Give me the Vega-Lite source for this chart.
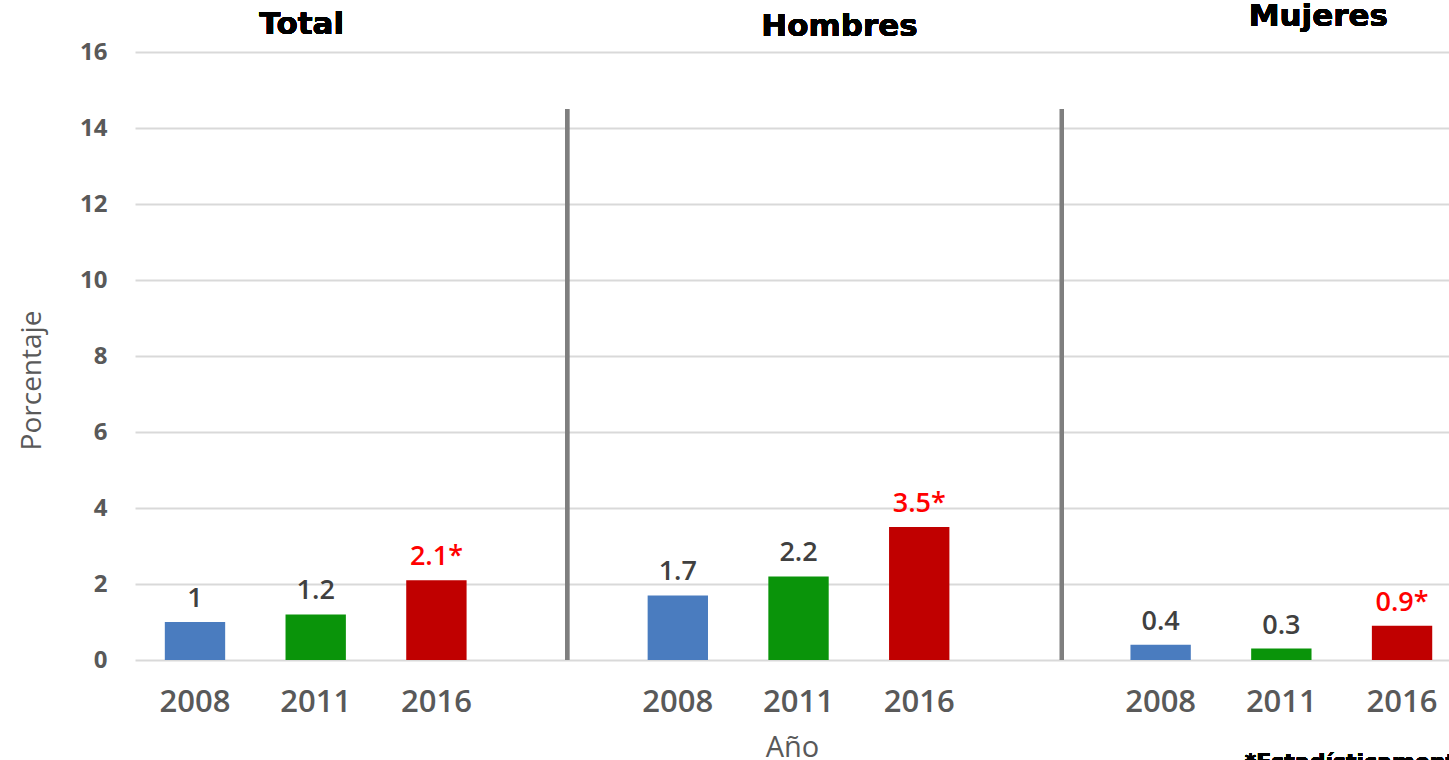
{
  "$schema": "https://vega.github.io/schema/vega-lite/v6.json",
  "autosize": {"type": "none"},
  "padding": {"left": 135, "top": 52, "right": 0, "bottom": 100},
  "width": 1314,
  "height": 608,
  "background": "white",
  "config": {"view": {"stroke": null}, "font": "Open Sans"},
  "datasets": {
    "barras": [
      {"grupo": "Total", "anio": "2008", "slot": "T2008", "valor": 1.0, "etiqueta": "1"},
      {"grupo": "Total", "anio": "2011", "slot": "T2011", "valor": 1.2, "etiqueta": "1.2"},
      {"grupo": "Total", "anio": "2016", "slot": "T2016", "valor": 2.1, "etiqueta": "2.1*"},
      {"grupo": "Hombres", "anio": "2008", "slot": "H2008", "valor": 1.7, "etiqueta": "1.7"},
      {"grupo": "Hombres", "anio": "2011", "slot": "H2011", "valor": 2.2, "etiqueta": "2.2"},
      {"grupo": "Hombres", "anio": "2016", "slot": "H2016", "valor": 3.5, "etiqueta": "3.5*"},
      {"grupo": "Mujeres", "anio": "2008", "slot": "M2008", "valor": 0.4, "etiqueta": "0.4"},
      {"grupo": "Mujeres", "anio": "2011", "slot": "M2011", "valor": 0.3, "etiqueta": "0.3"},
      {"grupo": "Mujeres", "anio": "2016", "slot": "M2016", "valor": 0.9, "etiqueta": "0.9*"}
    ]
  },
  "data": {"name": "barras"},
  "encoding": {
    "x": {
      "field": "slot",
      "type": "nominal",
      "sort": null,
      "scale": {
        "domain": ["T2008", "T2011", "T2016", "g1", "H2008", "H2011", "H2016", "g2", "M2008", "M2011", "M2016"],
        "paddingInner": 0.5,
        "paddingOuter": 0.193,
        "align": 0.64
      },
      "axis": {
        "title": "Año",
        "labelExpr": "(datum.value == 'g1' || datum.value == 'g2') ? '' : substring(datum.value, 1)",
        "labelAngle": 0,
        "labelFontSize": 31,
        "labelFontWeight": 600,
        "labelColor": "#595959",
        "labelPadding": 27,
        "ticks": false,
        "domain": false,
        "grid": false,
        "titleFontSize": 29,
        "titleFontWeight": "normal",
        "titleColor": "#595959",
        "titleY": 87,
        "titleBaseline": "middle"
      }
    }
  },
  "layer": [
    {
      "mark": {"type": "bar"},
      "encoding": {
        "y": {
          "field": "valor",
          "type": "quantitative",
          "scale": {"domain": [0, 16], "nice": false},
          "axis": {
            "title": "Porcentaje",
            "values": [0, 2, 4, 6, 8, 10, 12, 14, 16],
            "labelFontSize": 24,
            "labelFontWeight": "bold",
            "labelColor": "#595959",
            "labelPadding": 28,
            "ticks": false,
            "domain": false,
            "gridColor": "#d9d9d9",
            "gridWidth": 2,
            "titleFontSize": 28,
            "titleFontWeight": "normal",
            "titleColor": "#595959",
            "titleAngle": -90,
            "titleX": -103,
            "titleY": 328,
            "titleAlign": "center",
            "titleBaseline": "middle"
          }
        },
        "color": {
          "field": "anio",
          "type": "nominal",
          "scale": {"domain": ["2008", "2011", "2016"], "range": ["#4a7cbf", "#0a940a", "#c00000"]},
          "legend": null
        }
      }
    },
    {
      "mark": {"type": "text", "baseline": "bottom", "dy": -9, "fontSize": 27, "fontWeight": 600},
      "encoding": {
        "y": {"field": "valor", "type": "quantitative"},
        "text": {"field": "etiqueta"},
        "color": {"condition": {"test": "datum.anio == '2016'", "value": "#ff0000"}, "value": "#404040"}
      }
    },
    {
      "mark": {"type": "rule", "color": "#7f7f7f", "strokeWidth": 4, "xOffset": 10},
      "encoding": {"x": {"datum": "g1"}, "y": {"datum": 14.5}, "y2": {"datum": 0}}
    },
    {
      "mark": {"type": "rule", "color": "#7f7f7f", "strokeWidth": 4, "xOffset": 22},
      "encoding": {"x": {"datum": "g2"}, "y": {"datum": 14.5}, "y2": {"datum": 0}}
    },
    {
      "mark": {"type": "text", "text": "Total", "font": "DejaVu Sans", "fontWeight": "bold", "fontSize": 31, "color": "#000000", "baseline": "middle", "dx": -14},
      "encoding": {"x": {"datum": "T2011"}, "y": {"datum": 16.71}}
    },
    {
      "mark": {"type": "text", "text": "Hombres", "font": "DejaVu Sans", "fontWeight": "bold", "fontSize": 31, "color": "#000000", "baseline": "middle", "dx": 41},
      "encoding": {"x": {"datum": "H2011"}, "y": {"datum": 16.66}}
    },
    {
      "mark": {"type": "text", "text": "Mujeres", "font": "DejaVu Sans", "fontWeight": "bold", "fontSize": 31, "color": "#000000", "baseline": "middle", "dx": 37},
      "encoding": {"x": {"datum": "M2011"}, "y": {"datum": 16.92}}
    },
    {
      "mark": {"type": "text", "text": "*Estadísticamente significativo", "font": "DejaVu Sans", "fontWeight": "bold", "fontSize": 22, "color": "#000000", "align": "left", "baseline": "top", "dx": 84},
      "encoding": {"x": {"datum": "M2008"}, "y": {"datum": -2.42}}
    }
  ]
}
